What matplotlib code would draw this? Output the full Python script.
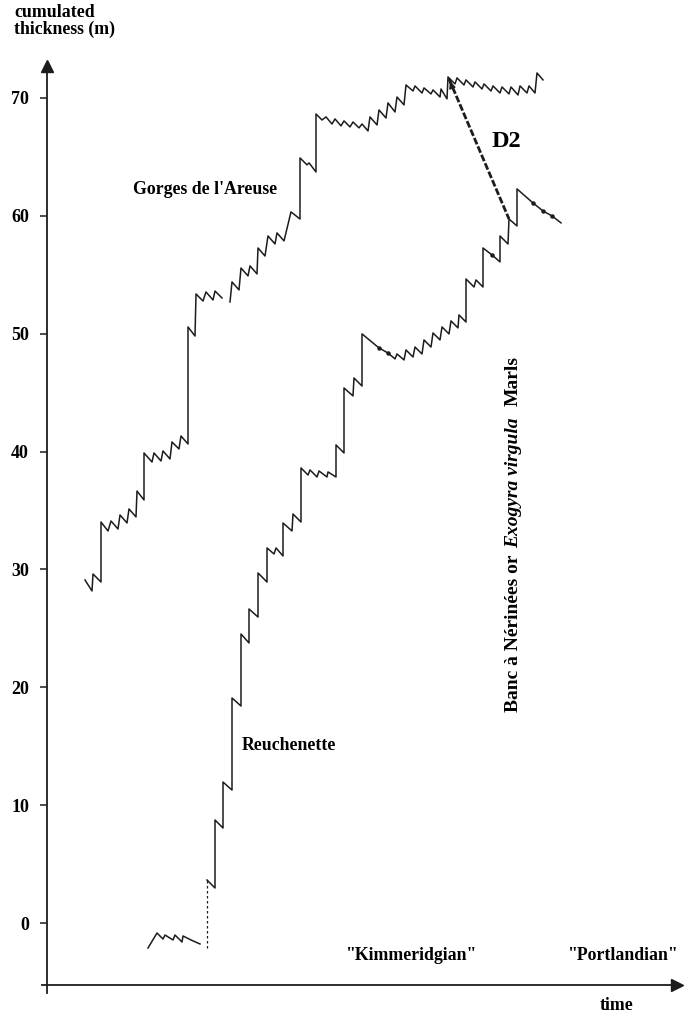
import numpy as np
import matplotlib
matplotlib.use("Agg")
import matplotlib.pyplot as plt

plt.rcParams['font.family'] = ['Liberation Serif', 'DejaVu Serif']
plt.rcParams['font.weight'] = 'bold'

# time (arbitrary units) and cumulated thickness (m)
gorges_a_t = [3.8, 4.5, 4.6, 5.4, 5.4, 6.1, 6.4, 7.1, 7.3, 8.0, 8.2, 8.9, 9.0, 9.7,
              9.7, 10.5, 10.7, 11.4, 11.6, 12.3, 12.5, 13.2, 13.4, 14.1,
              14.1, 14.8, 14.9, 15.6, 15.9, 16.6, 16.8, 17.5]
gorges_a_h = [29.10, 28.17, 29.61, 28.93, 34.02, 33.26, 34.11, 33.43, 34.62, 33.94, 35.13, 34.45, 36.65, 35.89,
              39.88, 39.11, 39.88, 39.20, 40.05, 39.37, 40.81, 40.22, 41.32, 40.64,
              50.57, 49.80, 53.37, 52.77, 53.54, 52.86, 53.62, 53.03]

gorges_b_t = [18.3, 18.5, 19.2, 19.4, 20.1, 20.3, 21.0, 21.1, 21.8, 22.1, 22.8, 23.0, 23.7, 24.4, 25.3,
              25.3, 26.0, 26.2, 26.9, 26.9, 27.5, 27.9, 28.5, 28.8, 29.4, 29.7, 30.3, 30.6, 31.2,
              31.5, 32.1, 32.3, 33.0, 33.2, 33.9, 34.1, 34.8, 35.0, 35.7, 35.9, 36.6, 36.8, 37.5,
              37.7, 38.4, 38.6, 39.3, 39.4, 40.0, 40.1, 40.8, 41.0, 41.7, 41.9, 42.6, 42.8, 43.5,
              43.7, 44.4, 44.6, 45.3, 45.5, 46.2, 46.4, 47.1, 47.3, 48.0, 48.2, 48.8, 49.0, 49.6]
gorges_b_h = [52.69, 54.39, 53.71, 55.57, 54.90, 55.75, 55.07, 57.27, 56.59, 58.29, 57.61, 58.55, 57.87, 60.33, 59.73,
              64.91, 64.32, 64.49, 63.72, 68.64, 68.13, 68.39, 67.79, 68.22, 67.63, 68.05, 67.54, 67.96, 67.46,
              67.79, 67.20, 68.39, 67.71, 68.98, 68.30, 69.58, 68.81, 70.08, 69.41, 71.10, 70.59, 71.02, 70.42,
              70.85, 70.34, 70.68, 70.08, 70.76, 69.92, 71.78, 71.19, 71.70, 71.10, 71.53, 70.93, 71.36, 70.76,
              71.19, 70.59, 71.02, 70.42, 70.93, 70.34, 70.93, 70.25, 71.02, 70.42, 71.02, 70.42, 72.12, 71.53]

reuch_low_t = [10.1, 11.0, 11.6, 11.8, 12.6, 12.8, 13.5, 13.6, 14.4, 15.3]
reuch_low_h = [-2.12, -0.85, -1.36, -1.02, -1.44, -1.02, -1.61, -1.10, -1.44, -1.78]

reuch_gap_t = [16.0, 16.0]
reuch_gap_h = [-2.12, 3.65]

reuch_t = [16.0, 16.8, 16.8, 17.6, 17.6, 18.5, 18.5, 19.4, 19.4, 20.2, 20.2, 21.1, 21.1, 22.0,
           22.0, 22.7, 22.9, 23.6, 23.6, 24.5, 24.6, 25.4, 25.4, 26.1, 26.3, 27.0, 27.2, 28.0,
           28.1, 28.9, 28.9, 29.7, 29.7, 30.6, 30.7, 31.5, 31.5, 33.2, 34.1, 34.8, 35.0, 35.7,
           35.9, 36.6, 36.8, 37.5, 37.7, 38.4, 38.6, 39.3, 39.5, 40.2, 40.4, 41.1, 41.2, 41.9,
           41.9, 42.7, 42.9, 43.6, 43.6, 44.5, 45.3, 45.3, 46.1, 46.2, 47.0, 47.0, 48.6, 49.6,
           50.5, 51.4]
reuch_h = [3.65, 2.97, 8.74, 8.06, 11.96, 11.28, 19.09, 18.41, 24.52, 23.76, 26.64, 25.96, 29.70, 28.93,
           31.82, 31.31, 31.82, 31.14, 33.94, 33.26, 34.70, 34.02, 38.61, 38.01, 38.44, 37.84, 38.35, 37.84,
           38.27, 37.84, 40.56, 39.88, 45.39, 44.72, 46.24, 45.56, 49.98, 48.79, 48.36, 47.86, 48.28, 47.77,
           48.62, 48.02, 48.87, 48.28, 49.47, 48.87, 50.06, 49.47, 50.57, 49.98, 51.08, 50.49, 51.59, 50.99,
           54.64, 53.96, 54.56, 53.96, 57.27, 56.68, 56.09, 58.29, 57.61, 59.73, 59.14, 62.28, 61.09, 60.41,
           59.99, 59.40]

beads_t = [33.2, 34.1, 44.5, 48.6, 49.6, 50.5]
beads_h = [48.79, 48.36, 56.68, 61.09, 60.41, 59.99]

d2_t = [40.2, 46.2]
d2_h = [71.61, 59.73]

yticks = [0, 10, 20, 30, 40, 50, 60, 70]

ink = '#1c1c1c'

fig = plt.figure(figsize=(6.91, 10.16), dpi=100)
ax = fig.add_axes([47 / 691, 31 / 1016, 630 / 691, 919 / 1016])
ax.set_xlim(0, 63.0)
ax.set_ylim(-5.26, 72.71)

ax.plot(gorges_a_t, gorges_a_h, color=ink, lw=1.1)
ax.plot(gorges_b_t, gorges_b_h, color=ink, lw=1.1)
ax.plot(reuch_low_t, reuch_low_h, color=ink, lw=1.1)
ax.plot(reuch_gap_t, reuch_gap_h, color=ink, lw=0.9, ls=(0, (2, 2)))
ax.plot(reuch_t, reuch_h, color=ink, lw=1.1)
ax.plot(beads_t, beads_h, 'o', color=ink, ms=2.2)

# D2 correlation line
ax.plot(d2_t, d2_h, color=ink, lw=2.0, ls=(0, (2.5, 0.8)))
ax.annotate('', xy=(d2_t[0], d2_h[0]), xytext=(d2_t[0] + 0.35, d2_h[0] - 0.8),
            arrowprops=dict(arrowstyle='-|>', color=ink, lw=1.2, mutation_scale=9))

# axes with arrows
for s in ['top', 'right']:
    ax.spines[s].set_visible(False)
for s in ['left', 'bottom']:
    ax.spines[s].set_linewidth(1.3)
    ax.spines[s].set_color(ink)
ax.spines['left'].set_bounds(-5.9, 72.71)
ax.spines['bottom'].set_bounds(-0.5, 63.0)
ax.plot(0, 1, '^', color=ink, ms=8, transform=ax.transAxes, clip_on=False)
ax.plot(1, 0, '>', color=ink, ms=8, transform=ax.transAxes, clip_on=False)

ax.set_xticks([])
ax.set_yticks(yticks)
ax.set_yticklabels([str(v) for v in yticks], fontsize=13, fontweight='bold')
ax.tick_params(axis='y', direction='out', length=5, width=1.1, color=ink, pad=8)

fs = 12.8
fig.text(14 / 691, 1 - 4 / 1016, 'cumulated\nthickness (m)', ha='left', va='top',
         fontsize=fs, fontweight='bold', linespacing=1.0)
ax.text(15.8, 62.2, "Gorges de l'Areuse", ha='center', va='center', fontsize=fs, fontweight='bold')
ax.text(24.2, 15.1, 'Reuchenette', ha='center', va='center', fontsize=fs, fontweight='bold')
ax.text(45.9, 66.3, 'D2', ha='center', va='center', fontsize=17.5, fontweight='bold')
ax.text(36.4, -2.72, '"Kimmeridgian"', ha='center', va='center', fontsize=fs, fontweight='bold')
ax.text(57.5, -2.72, '"Portlandian"', ha='center', va='center', fontsize=fs, fontweight='bold')
ax.text(57.0, -6.96, 'time', ha='center', va='center', fontsize=fs, fontweight='bold', clip_on=False)

# vertical label with italic species name
fig.canvas.draw()
renderer = fig.canvas.get_renderer()
bx, by = ax.transData.transform((47.1, 17.9))
parts = [('Banc à Nérinées or', 'normal', 7), ('Exogyra virgula', 'italic', 11), ('Marls', 'normal', 0)]
for txt, st, gap in parts:
    t = fig.text(bx / fig.bbox.width, by / fig.bbox.height, txt, rotation=90,
                 rotation_mode='anchor', ha='left', va='baseline',
                 fontsize=14, fontweight='bold', style=st)
    ext = t.get_window_extent(renderer)
    by += ext.height + gap

fig.savefig('out.png', dpi=100)
